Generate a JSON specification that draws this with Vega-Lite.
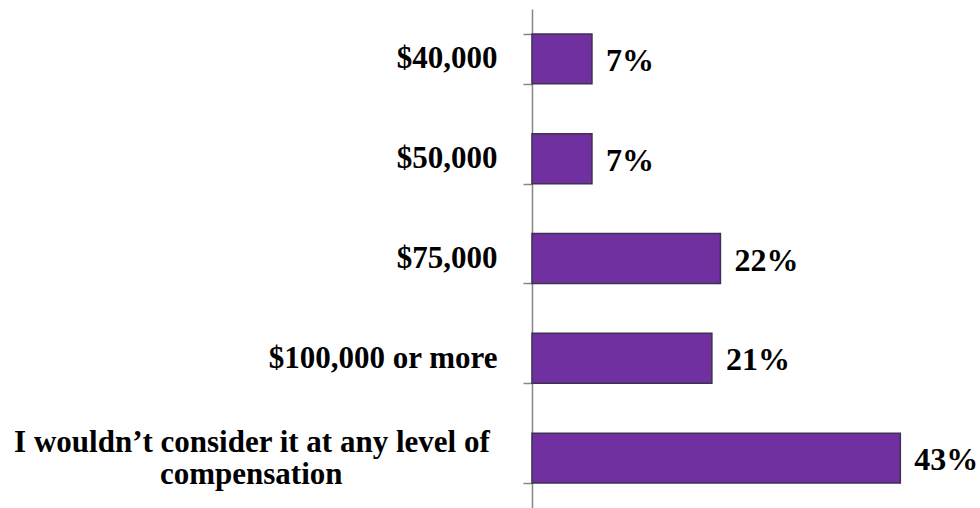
{
  "$schema": "https://vega.github.io/schema/vega-lite/v6.json",
  "autosize": {"type": "none"},
  "padding": {"left": 532, "top": 9, "right": 0, "bottom": 0},
  "width": 448,
  "height": 499,
  "background": "white",
  "data": {
    "values": [
      {"category": "$40,000", "value": 7, "text": "7%"},
      {"category": "$50,000", "value": 7, "text": "7%"},
      {"category": "$75,000", "value": 22, "text": "22%"},
      {"category": "$100,000 or more", "value": 21, "text": "21%"},
      {"category": "I wouldn’t consider it at any level of\u00a0\u200b|compensation\u00a0\u00a0\u00a0\u00a0\u00a0\u00a0\u00a0\u00a0\u00a0\u00a0\u00a0\u00a0\u00a0\u00a0\u00a0\u00a0\u00a0\u00a0\u00a0\u00a0\u200b", "value": 43, "text": "43%"}
    ]
  },
  "config": {
    "view": {"stroke": null},
    "font": "Liberation Serif"
  },
  "encoding": {
    "y": {
      "field": "category",
      "type": "nominal",
      "sort": null,
      "scale": {"paddingInner": 0.5, "paddingOuter": 0.25},
      "axis": {
        "title": null,
        "labelExpr": "split(datum.label, '|')",
        "labelFont": "Liberation Serif",
        "labelFontSize": 31,
        "labelFontWeight": "bold",
        "labelColor": "black",
        "labelLimit": 600,
        "labelBaseline": {"condition": {"test": "isString(datum.value) && indexof(datum.value, 'compensation') >= 0", "value": "bottom"}, "value": "middle"},
        "labelPadding": 26,
        "labelLineHeight": 32,
        "tickBand": "extent",
        "tickSize": 9,
        "tickColor": "#868686",
        "domainColor": "#868686",
        "tickWidth": 1.5,
        "domainWidth": 1.5,
        "grid": false
      }
    },
    "x": {
      "field": "value",
      "type": "quantitative",
      "scale": {"domain": [0, 52.3], "nice": false},
      "axis": null
    }
  },
  "layer": [
    {
      "mark": {"type": "bar", "color": "#7030A0", "stroke": "#3F3151", "strokeWidth": 1.5}
    },
    {
      "mark": {"type": "text", "align": "left", "baseline": "middle", "dx": 14, "dy": 2, "fontSize": 32, "fontWeight": "bold", "font": "Liberation Serif", "color": "black"},
      "encoding": {"text": {"field": "text"}}
    }
  ]
}
